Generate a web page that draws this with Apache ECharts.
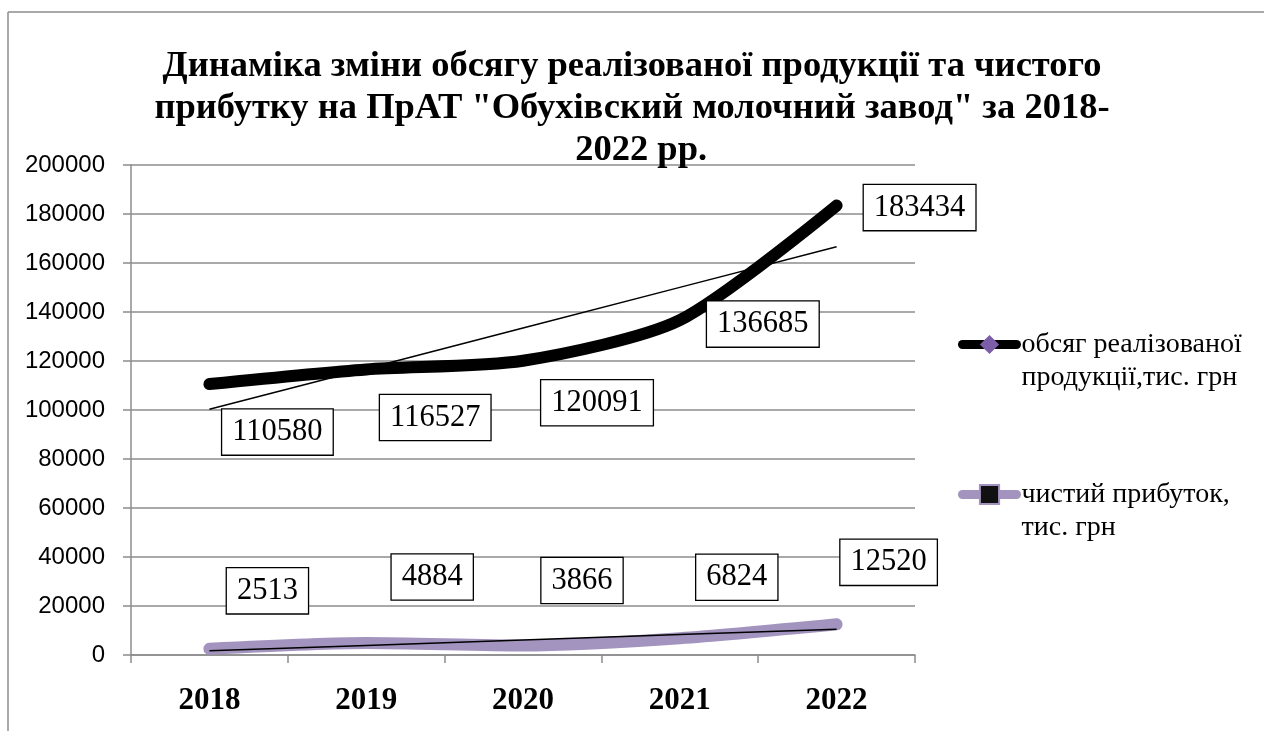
<!DOCTYPE html>
<html>
<head>
<meta charset="utf-8">
<title>Динаміка зміни обсягу реалізованої продукції</title>
<script src="https://cdn.jsdelivr.net/npm/echarts@6/dist/echarts.min.js"></script>
<style>
  html, body { margin: 0; padding: 0; background: #fff; }
  #main { width: 1264px; height: 731px; }
</style>
</head>
<body>
<div id="main"></div>
<script>
// data
var years = ['2018', '2019', '2020', '2021', '2022'];
var salesVolume = [110580, 116527, 120091, 136685, 183434];
var netProfit = [2513, 4884, 3866, 6824, 12520];
// linear trend lines as drawn on the picture
var salesTrend = [100290, 116877, 133463, 150050, 166637];
var profitTrend = [1731, 3926, 6121, 8317, 10512];
var yTicks = { min: 0, max: 200000, step: 20000 };

// label box centre (px) relative to each point
var salesLabelOffsets = [[68, 48], [69, 48], [74, 42], [83, 4], [83, 2]];
var profitLabelOffsets = [[58, -58], [66, -66], [59, -65], [57, -61], [52, -62]];

var serif = '"Liberation Serif", "Times New Roman", serif';
var sans = '"Liberation Sans", Arial, sans-serif';
var gridColor = '#8c8c8c';
var purple = '#a393bf';

var labelBox = {
    show: true,
    align: 'center',
    verticalAlign: 'middle',
    fontFamily: serif,
    fontSize: 30.5,
    lineHeight: 33,
    color: '#000',
    backgroundColor: '#fff',
    borderColor: '#000',
    borderWidth: 1.3,
    padding: [7, 10, 5, 10]
};

// symbols stay hidden on the plot (size 0) so that only labels show
function withLabels(values, offsets) {
    return values.map(function (v, i) {
        return { value: v, symbolSize: 0, label: { position: offsets[i] } };
    });
}

var myChart = echarts.init(document.getElementById('main'));
myChart.setOption({
    backgroundColor: '#fff',
    animation: false,
    title: {
        text: 'Динаміка зміни обсягу реалізованої продукції та чистого\nприбутку на ПрАТ "Обухівский молочний завод" за 2018-\n  2022 рр.',
        left: 'center',
        top: 41,
        textStyle: {
            fontFamily: serif,
            fontWeight: 'bold',
            fontSize: 36.5,
            lineHeight: 42,
            color: '#000'
        }
    },
    graphic: [
        { type: 'line', shape: { x1: 8, y1: 12, x2: 1264, y2: 12 }, style: { stroke: gridColor, lineWidth: 1.5 } },
        { type: 'line', shape: { x1: 8, y1: 12, x2: 8, y2: 731 }, style: { stroke: gridColor, lineWidth: 1.5 } }
    ],
    legend: {
        orient: 'vertical',
        left: 953,
        top: 290,
        itemWidth: 54,
        itemHeight: 24,
        itemGap: 51,
        data: ['обсяг реалізованої\nпродукції,тис. грн', 'чистий прибуток,\nтис. грн'],
        formatter: function (name) { return '\n' + name; },
        lineStyle: { width: 9, cap: 'round' },
        textStyle: {
            fontFamily: serif,
            fontSize: 28,
            lineHeight: 33,
            color: '#000'
        }
    },
    grid: {
        left: 131,
        right: 349,
        top: 165,
        bottom: 76,
        containLabel: false
    },
    xAxis: {
        type: 'category',
        data: years,
        boundaryGap: true,
        axisLine: { lineStyle: { color: gridColor, width: 1.5 } },
        axisTick: { show: true, length: 8, lineStyle: { color: gridColor, width: 1.5 } },
        axisLabel: {
            fontFamily: serif,
            fontWeight: 'bold',
            fontSize: 31,
            color: '#000',
            margin: 30
        }
    },
    yAxis: {
        type: 'value',
        min: yTicks.min,
        max: yTicks.max,
        interval: yTicks.step,
        axisLine: { show: true, lineStyle: { color: gridColor, width: 1.5 } },
        axisTick: { show: true, length: 8, lineStyle: { color: gridColor, width: 1.5 } },
        splitLine: { lineStyle: { color: gridColor, width: 1.5 } },
        axisLabel: {
            fontFamily: sans,
            fontSize: 24,
            color: '#000',
            margin: 26,
            formatter: function (v) { return String(v); }
        }
    },
    series: [
        {
            name: 'обсяг реалізованої\nпродукції,тис. грн',
            type: 'line',
            data: withLabels(salesVolume, salesLabelOffsets),
            smooth: 0.25,
            symbol: 'diamond',
            symbolSize: 18,
            showSymbol: true,
            itemStyle: { color: '#7b5ea7' },
            lineStyle: { color: '#000', width: 12, cap: 'round', join: 'round' },
            label: labelBox,
            labelLayout: { hideOverlap: false },
            z: 3
        },
        {
            name: 'чистий прибуток,\nтис. грн',
            type: 'line',
            data: withLabels(netProfit, profitLabelOffsets),
            smooth: 0.25,
            symbol: 'rect',
            symbolSize: 15,
            showSymbol: true,
            itemStyle: { color: '#111', borderColor: purple, borderWidth: 2 },
            lineStyle: { color: purple, width: 12, cap: 'round', join: 'round' },
            label: labelBox,
            labelLayout: { hideOverlap: false },
            z: 3
        },
        {
            name: 'trend-sales',
            type: 'line',
            data: salesTrend,
            showSymbol: false,
            symbol: 'none',
            silent: true,
            lineStyle: { color: '#000', width: 1.5 },
            z: 4
        },
        {
            name: 'trend-profit',
            type: 'line',
            data: profitTrend,
            showSymbol: false,
            symbol: 'none',
            silent: true,
            lineStyle: { color: '#000', width: 1.5 },
            z: 4
        }
    ]
});
</script>
</body>
</html>
